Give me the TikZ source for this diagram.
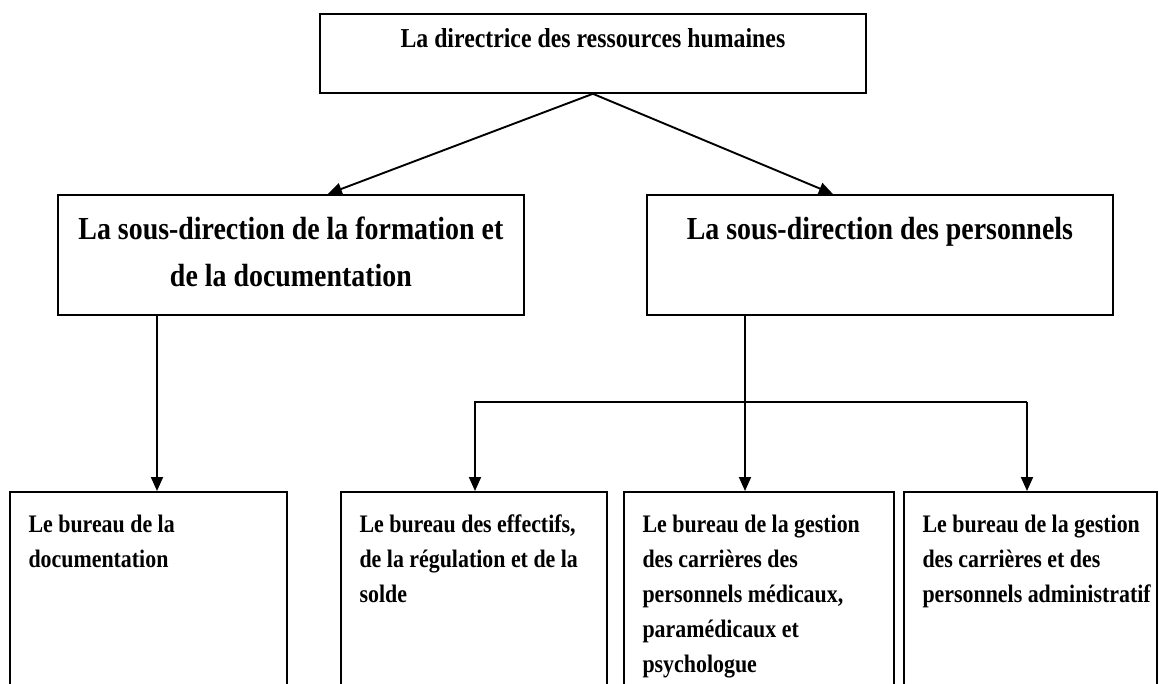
\documentclass[tikz,border=0pt]{standalone}
\usepackage{fontspec}
\usepackage{graphicx}
\setmainfont{Liberation Serif}
\usetikzlibrary{arrows.meta,calc}
% text sizes of the three levels
\newcommand\fTop{\fontsize{23.8}{28}\selectfont\bfseries}
\newcommand\fMid{\fontsize{27.9}{47}\selectfont\bfseries}
\newcommand\fBot{\fontsize{21.9}{35}\selectfont\bfseries}
% one line of slightly condensed-looking (taller) lettering
\newcommand\tl[1]{\scalebox{1}[1.15]{#1}}
\begin{document}
\begin{tikzpicture}[x=1pt,y=-1pt,
  box/.style={draw,line width=1.8pt,inner sep=0pt,anchor=north west},
  conn/.style={line width=1.9pt},
  arr/.style={conn,-{Triangle[length=14pt,width=12pt]}}]
\useasboundingbox (0,0) rectangle (1159,684);
\clip (0,0) rectangle (1159,684);

% director
\node[box,minimum width=546pt,minimum height=79pt] (dir) at (319,13) {};
\node[anchor=base,font=\fTop] (dirT) at ($(dir.north)+(0,35)$) {\tl{La directrice des ressources humaines}};

% sub-directorates (multi-line texts are placed by the baseline of their last line)
\node[box,minimum width=466pt,minimum height=120pt] (sdf) at (57,194) {};
\node[anchor=base,align=center,font=\fMid] (sdfT) at ($(sdf.north)+(0,93)$)
  {\tl{La sous-direction de la formation et}\\\tl{de la documentation}};
\node[box,minimum width=466pt,minimum height=120pt] (sdp) at (646,194) {};
\node[anchor=base,font=\fMid] (sdpT) at ($(sdp.north)+(0,46)$) {\tl{La sous-direction des personnels}};

% offices (their lower part runs off the page)
\node[box,minimum width=277pt,minimum height=230pt] (bdoc) at (9,491) {};
\node[box,minimum width=266pt,minimum height=230pt] (beff) at (340,491) {};
\node[box,minimum width=270pt,minimum height=230pt] (bmed) at (623,491) {};
\node[box,minimum width=253pt,minimum height=230pt] (badm) at (903,491) {};

\node[anchor=base west,align=left,font=\fBot] (bdocT) at ($(bdoc.north west)+(16,76)$)
  {\tl{Le bureau de la}\\\tl{documentation}};
\node[anchor=base west,align=left,font=\fBot] (beffT) at ($(beff.north west)+(16,111)$)
  {\tl{Le bureau des effectifs,}\\\tl{de la régulation et de la}\\\tl{solde}};
\node[anchor=base west,align=left,font=\fBot] (bmedT) at ($(bmed.north west)+(16,181)$)
  {\tl{Le bureau de la gestion}\\\tl{des carrières des}\\\tl{personnels médicaux,}\\\tl{paramédicaux et}\\\tl{psychologue}};
\node[anchor=base west,align=left,font=\fBot] (badmT) at ($(badm.north west)+(16,111)$)
  {\tl{Le bureau de la gestion}\\\tl{des carrières et des}\\\tl{personnels administratif}};

% connectors
\draw[arr] (dir.south) -- ([xshift=37pt]sdf.north);
\draw[arr] (dir.south) -- ([xshift=-47pt]sdp.north);

\coordinate (f1) at ([xshift=100pt]sdf.south west);
\draw[arr] (f1) -- (f1 |- bdoc.north);

\coordinate (p0) at ([xshift=99pt]sdp.south west);
\coordinate (lvl) at (0,402);
\coordinate (xa) at ([xshift=135pt]beff.north west);
\coordinate (xc) at ([xshift=124pt]badm.north west);
\draw[arr] (p0) -- (p0 |- bmed.north);
\draw[arr] (xc |- lvl) -- (xa |- lvl) -- (xa);
\draw[arr] (xc |- lvl) -- (xc);
\end{tikzpicture}
\end{document}
